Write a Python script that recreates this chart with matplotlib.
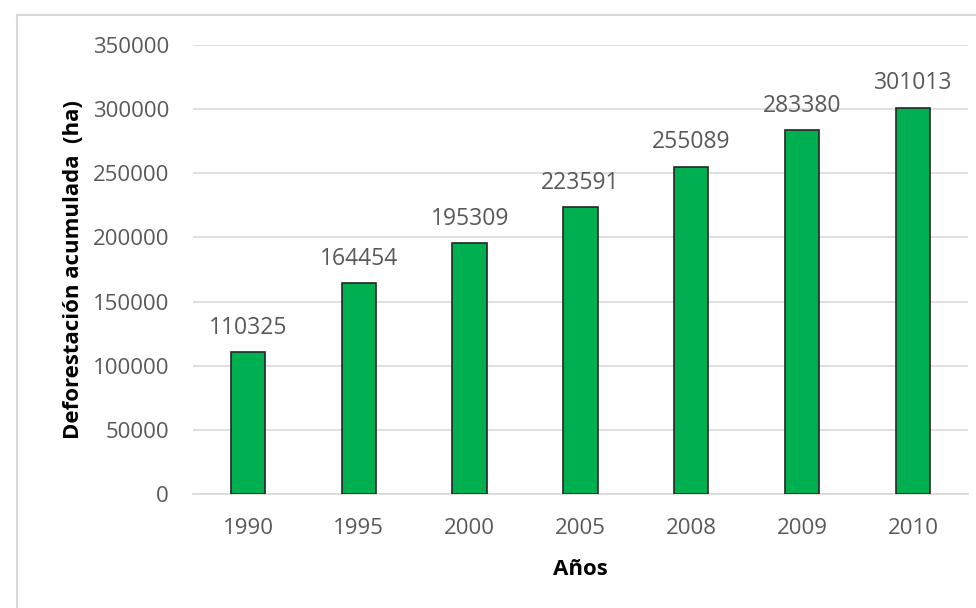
import matplotlib.pyplot as plt
from matplotlib.lines import Line2D

# Deforestación acumulada por año
anios = ["1990", "1995", "2000", "2005", "2008", "2009", "2010"]
deforestacion = [110325, 164454, 195309, 223591, 255089, 283380, 301013]
yticks = [0, 50000, 100000, 150000, 200000, 250000, 300000, 350000]

plt.rcParams['font.family'] = ['Open Sans', 'DejaVu Sans']
gris = '#595959'

fig = plt.figure(figsize=(9.76, 6.08), dpi=100)
ax = fig.add_axes([0.1973, 0.1875, 0.7949, 0.7385])

x = range(len(anios))
bars = ax.bar(x, deforestacion, width=0.31, color='#00B050',
              edgecolor='#262626', linewidth=1.2, zorder=3)

for b, v in zip(bars, deforestacion):
    ax.annotate(str(v), (b.get_x() + b.get_width() / 2, v),
                xytext=(0, 9), textcoords='offset points',
                ha='center', va='bottom', fontsize=16.5, color=gris)

ax.set_xlim(-0.5, len(anios) - 0.5)
ax.set_ylim(0, 350000)
ax.set_xticks(list(x))
ax.set_xticklabels(anios)
ax.set_yticks(yticks)
ax.set_yticklabels([str(t) for t in yticks])
ax.tick_params(axis='both', length=0, labelsize=16, labelcolor=gris)
ax.tick_params(axis='y', pad=17)
ax.tick_params(axis='x', pad=17)
ax.grid(axis='y', color='#D9D9D9', linewidth=1.2, zorder=0)
for s in ['top', 'right', 'left']:
    ax.spines[s].set_visible(False)
ax.spines['bottom'].set_color('#D9D9D9')
ax.spines['bottom'].set_linewidth(1.2)

ax.set_xlabel('Años', fontsize=16, fontweight='bold', color='black', labelpad=15)
ax.set_ylabel('Deforestación acumulada  (ha)', fontsize=16, fontweight='bold',
              color='black', labelpad=6)

# marco exterior del gráfico
fig.add_artist(Line2D([17 / 976, 17 / 976], [0, 1 - 15 / 608],
                      transform=fig.transFigure, color='#D9D9D9', linewidth=1.5))
fig.add_artist(Line2D([17 / 976, 1], [1 - 15 / 608, 1 - 15 / 608],
                      transform=fig.transFigure, color='#D9D9D9', linewidth=1.5))

fig.savefig('out.png', dpi=100)
